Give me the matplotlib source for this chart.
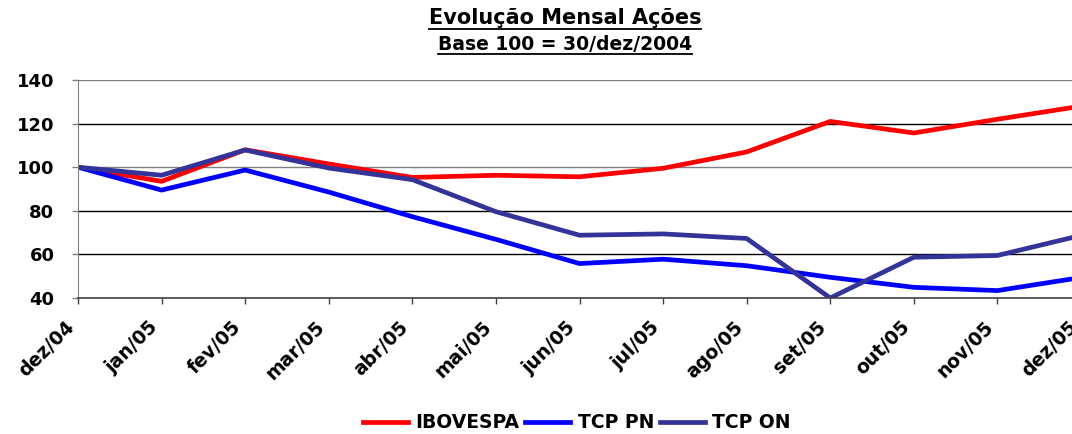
import matplotlib
matplotlib.use("Agg")
import matplotlib.pyplot as plt
from matplotlib.lines import Line2D

meses = ["dez/04", "jan/05", "fev/05", "mar/05", "abr/05", "mai/05", "jun/05",
         "jul/05", "ago/05", "set/05", "out/05", "nov/05", "dez/05"]
ibovespa = [100, 93.5, 108, 101.5, 95.3, 96.3, 95.6, 99.5, 107, 121, 115.7, 122, 128]
tcp_pn = [100, 89.5, 98.7, 88.6, 77.3, 66.9, 55.8, 57.8, 54.8, 49.5, 44.9, 43.4, 49.4]
tcp_on = [100, 96.3, 107.9, 99.6, 94.3, 79.6, 68.8, 69.4, 67.3, 40, 58.7, 59.5, 68.7]
yticks = [40, 60, 80, 100, 120, 140]

plt.rcParams['font.family'] = ['DejaVu Sans']
plt.rcParams['font.weight'] = 'bold'

W, H = 1072, 434
fig = plt.figure(figsize=(W / 100, H / 100), dpi=100)
ax = fig.add_axes([78 / W, 1 - 298 / H, (1081 - 78) / W, (298 - 80) / H])

x = list(range(len(meses)))
lw = 3.4
ax.plot(x, ibovespa, color="#FF0000", lw=lw, label="IBOVESPA")
ax.plot(x, tcp_pn, color="#0000FF", lw=lw, label="TCP PN")
ax.plot(x, tcp_on, color="#333399", lw=lw, label="TCP ON")

ax.set_xlim(0, len(meses) - 1)
ax.set_ylim(40, 140)
ax.set_yticks(yticks)
ax.set_yticklabels([str(v) for v in yticks], fontsize=13, fontweight="bold")
ax.set_xticks(x)
ax.set_xticklabels(meses, rotation=45, ha="right", fontsize=13.5, fontweight="bold")

for v in yticks[1:]:
    c = "#808080" if v in (100, 140) else "#000000"
    ax.axhline(v, color=c, lw=1.0, zorder=0)

for s in ["top", "right"]:
    ax.spines[s].set_visible(False)
ax.spines["left"].set_color("#808080")
ax.spines["bottom"].set_color("#404040")
ax.spines["bottom"].set_linewidth(1.2)
ax.tick_params(axis="x", direction="out", length=4, width=1, color="#404040", pad=10)
ax.tick_params(axis="y", direction="out", length=4, width=1, color="#808080", pad=13)

fig.legend(loc="center", bbox_to_anchor=(577 / W, 1 - 423 / H), ncol=3, frameon=False,
           prop={"weight": "bold", "size": 13.5}, handlelength=2.4, handletextpad=0.4,
           columnspacing=0.3, borderaxespad=0)

t1 = fig.text(565 / W, 1 - 18 / H, "Evolução Mensal Ações", ha="center", va="center",
              fontsize=15, fontweight="bold")
t2 = fig.text(565 / W, 1 - 44 / H, "Base 100 = 30/dez/2004", ha="center", va="center",
              fontsize=13.5, fontweight="bold")

# underline the titles
fig.canvas.draw()
r = fig.canvas.get_renderer()
for t in (t1, t2):
    bb = t.get_window_extent(r).transformed(fig.transFigure.inverted())
    y = bb.y0 - 0.5 / H
    fig.add_artist(Line2D([bb.x0, bb.x1], [y, y], color="black", lw=1.3,
                          transform=fig.transFigure))

fig.savefig("out.png", dpi=100)
